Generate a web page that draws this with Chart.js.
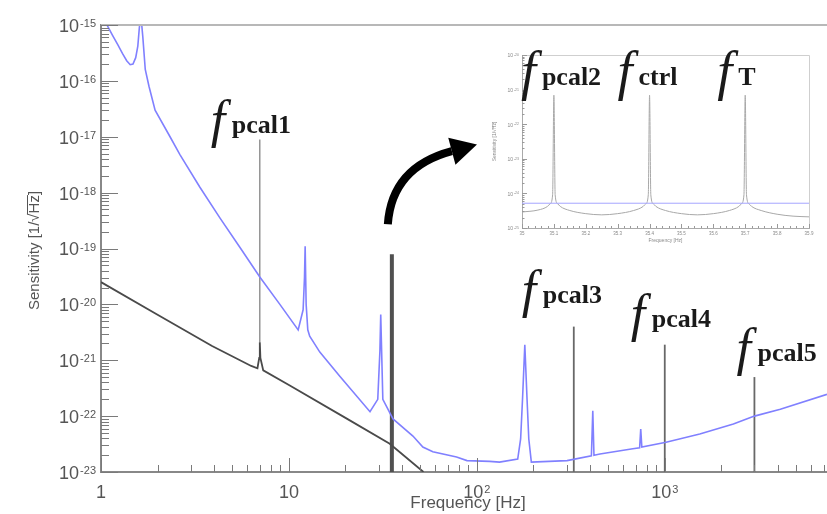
<!DOCTYPE html>
<html>
<head>
<meta charset="utf-8">
<script src="https://cdn.jsdelivr.net/npm/chart.js@4.4.1/dist/chart.umd.min.js"></script>
<style>
  html, body { margin: 0; padding: 0; background: #fff; }
  #wrap { position: relative; width: 827px; height: 514px; overflow: hidden; }
  #main { position: absolute; left: 0; top: 0; }
  #inset { position: absolute; left: 484px; top: 42px; }
</style>
</head>
<body>
<div id="wrap">
  <canvas id="main" width="827" height="514"></canvas>
  <canvas id="inset" width="336" height="210"></canvas>
</div>
<script>
// sensitivity curve (blue), Hz -> 1/sqrt(Hz)
const sensFreq = [1.03, 1.076, 1.15, 1.23, 1.3, 1.37, 1.43, 1.48, 1.53, 1.57, 1.6, 1.63, 1.67, 1.72, 1.8, 1.94, 2.33, 2.63, 3.36, 4.3, 5.48, 7.0, 8.95, 11.2, 11.9, 12.1, 12.2, 12.35, 12.6, 12.9, 14.6, 18.7, 27.0, 29.7, 30.5, 30.8, 31.6, 35.8, 45.7, 51.6, 58.3, 78, 88.6, 117, 132, 165, 171, 175, 180, 185, 189, 195, 302, 407, 414, 420, 452, 676, 735, 745, 755, 1016, 1536, 2318, 3000, 4120, 7300];
const sensValue = [1.5e-15, 1e-15, 6.6e-16, 4.4e-16, 3.1e-16, 2.3e-16, 1.95e-16, 2.0e-16, 2.6e-16, 4.2e-16, 9e-16, 1.5e-15, 6e-16, 1.6e-16, 8e-17, 3e-17, 1e-17, 4.8e-18, 1.25e-18, 3.5e-19, 1.05e-19, 3.1e-20, 1e-20, 3.5e-21, 8e-21, 3e-20, 1.1e-19, 1e-20, 3.5e-21, 2.7e-21, 1.4e-21, 5.1e-22, 1.2e-22, 2e-22, 1.5e-21, 6.6e-21, 2e-22, 8.9e-23, 4.4e-23, 2.8e-23, 2.3e-23, 1.85e-23, 1.6e-23, 1.55e-23, 1.5e-23, 1.7e-23, 3.9e-23, 2e-22, 1.9e-21, 2e-22, 3.9e-23, 1.5e-23, 1.6e-23, 1.95e-23, 1.25e-22, 2e-23, 2.1e-23, 2.6e-23, 2.7e-23, 5.9e-23, 2.8e-23, 3.4e-23, 4.8e-23, 7.2e-23, 1e-22, 1.33e-22, 2.45e-22];

// calibration noise curve (dark grey)
const noiseFreq = [1, 2, 3.9, 6.3, 6.8, 6.95, 7.0, 7.05, 7.3, 10, 20, 34.4, 52];
const noiseValue = [2.5e-20, 6.5e-21, 1.8e-21, 7.9e-22, 7.2e-22, 1.1e-21, 2.1e-21, 1.1e-21, 6.6e-22, 3.6e-22, 9.3e-23, 3.2e-23, 1e-23];

// calibration lines
const lineFreq = [7.0, 35.3, 328, 1000, 3000];
const lineTop = [8.9e-18, 7.9e-20, 4.0e-21, 1.9e-21, 5.0e-22];
const lineBase = [2.1e-21, 1e-23, 1e-23, 1e-23, 1e-23];
const lineNames = ["pcal1", "", "pcal3", "pcal4", "pcal5"];

const yTicks = [1e-23, 1e-22, 1e-21, 1e-20, 1e-19, 1e-18, 1e-17, 1e-16, 1e-15];
const xTicks = [1, 10, 100, 1000];

// inset (zoom around 35 Hz)
const insetFreq = [35.0, 35.05, 35.08, 35.088, 35.096, 35.1, 35.104, 35.112, 35.12, 35.15, 35.2, 35.25, 35.3, 35.35, 35.38, 35.388, 35.396, 35.4, 35.404, 35.412, 35.42, 35.45, 35.5, 35.55, 35.6, 35.65, 35.68, 35.688, 35.696, 35.7, 35.704, 35.712, 35.72, 35.75, 35.8, 35.85, 35.9];
const insetNoise = [2.9e-25, 3.3e-25, 4.2e-25, 5e-25, 9e-25, 6.9e-22, 9e-25, 5e-25, 4.2e-25, 3.2e-25, 2.6e-25, 2.4e-25, 2.6e-25, 3.2e-25, 4.2e-25, 5e-25, 9e-25, 6.9e-22, 9e-25, 5e-25, 4.2e-25, 3.2e-25, 2.6e-25, 2.4e-25, 2.6e-25, 3.2e-25, 4.2e-25, 5e-25, 9e-25, 6.9e-22, 9e-25, 5e-25, 4.2e-25, 3.2e-25, 2.5e-25, 2.2e-25, 2.1e-25];
const insetSensFreq = [35.0, 35.9];
const insetSensValue = [5.2e-25, 5.2e-25];
const insetPeakFreq = [35.1, 35.4, 35.7];
const insetPeakNames = ["pcal2", "ctrl", "T"];
const insetYTicks = [1e-25, 1e-24, 1e-23, 1e-22, 1e-21, 1e-20];
const insetXTicks = [35.0, 35.1, 35.2, 35.3, 35.4, 35.5, 35.6, 35.7, 35.8, 35.9];
const insetXLabels = ["35", "35.1", "35.2", "35.3", "35.4", "35.5", "35.6", "35.7", "35.8", "35.9"];

// styles
const SANS = '"Liberation Sans", Arial, sans-serif';
const SERIF = '"Liberation Serif", "Times New Roman", serif';
const lineWidths = [1.2, 4, 1.8, 1.8, 1.8];
const lineColors = ["#7a7a7a", "#505050", "#686868", "#686868", "#686868"];
const labelShift = [[-28, -7], null, [-31, -24], [-13, -18], [3, -16]];
const insetLabelShift = [-12, -11, -7];

const pts = (xs, ys) => xs.map((v, i) => ({ x: v, y: ys[i] }));

function drawPow(ctx, e, x, y, align, big, small, color) {
  const base = e === 0 ? "1" : "10";
  const sup = e === 0 || e === 1 ? "" : String(e);
  ctx.save();
  ctx.fillStyle = color;
  ctx.font = big + "px " + SANS;
  const wb = ctx.measureText(base).width;
  ctx.font = small + "px " + SANS;
  const ws = sup ? ctx.measureText(sup).width + 1 : 0;
  const left = align === "right" ? x - wb - ws : x - (wb + ws) / 2;
  ctx.textAlign = "left";
  ctx.textBaseline = "middle";
  ctx.font = big + "px " + SANS;
  ctx.fillText(base, left, y);
  if (sup) {
    ctx.textBaseline = "alphabetic";
    ctx.font = small + "px " + SANS;
    ctx.fillText(sup, left + wb + 1, y);
  }
  ctx.restore();
}

function drawF(ctx, sub, subLeft, baseline, fSize) {
  ctx.save();
  ctx.fillStyle = "#1a1a1a";
  ctx.textAlign = "left";
  ctx.textBaseline = "alphabetic";
  ctx.font = "italic " + fSize + "px " + SERIF;
  ctx.fillText("f", subLeft - 21, baseline + 4);
  ctx.font = "bold 26px " + SERIF;
  ctx.fillText(sub, subLeft, baseline);
  ctx.restore();
}

// "Sensitivity [1/√Hz]" with a bar over Hz
function drawSensTitle(ctx, cx, cy, size, color) {
  ctx.save();
  ctx.translate(cx, cy);
  ctx.rotate(-Math.PI / 2);
  ctx.font = size + "px " + SANS;
  ctx.fillStyle = color;
  ctx.strokeStyle = color;
  ctx.textAlign = "left";
  ctx.textBaseline = "middle";
  const full = "Sensitivity [1/\u221AHz]";
  const w = ctx.measureText(full).width;
  const w1 = ctx.measureText("Sensitivity [1/\u221A").width;
  const w2 = ctx.measureText("Sensitivity [1/\u221AHz").width;
  ctx.fillText(full, -w / 2, 0);
  ctx.lineWidth = Math.max(0.5, size / 15);
  ctx.beginPath();
  ctx.moveTo(-w / 2 + w1 - size * 0.05, -size * 0.5);
  ctx.lineTo(-w / 2 + w2, -size * 0.5);
  ctx.stroke();
  ctx.restore();
}

const mainDecor = {
  id: "mainDecor",
  afterDraw(chart) {
    const { ctx, chartArea: a, scales: { x, y } } = chart;
    ctx.save();
    // top frame
    ctx.strokeStyle = "#b8b8b8";
    ctx.lineWidth = 2;
    ctx.beginPath();
    ctx.moveTo(a.left, a.top);
    ctx.lineTo(a.right, a.top);
    ctx.stroke();

    // inward ticks
    ctx.strokeStyle = "#7a7a7a";
    ctx.lineWidth = 1;
    ctx.beginPath();
    for (let e = -23; e <= -15; e++) {
      for (let m = 1; m <= 9; m++) {
        const v = m * Math.pow(10, e);
        if (v > y.max * 1.001) break;
        const py = Math.round(y.getPixelForValue(v)) + 0.5;
        const len = m === 1 ? 17 : 8;
        ctx.moveTo(a.left, py);
        ctx.lineTo(a.left + len, py);
      }
    }
    for (let d = 0; d <= 3; d++) {
      for (let m = 1; m <= 9; m++) {
        const v = m * Math.pow(10, d);
        if (v > x.max) break;
        const px = Math.round(x.getPixelForValue(v)) + 0.5;
        const len = m === 1 ? 14 : 7;
        ctx.moveTo(px, a.bottom);
        ctx.lineTo(px, a.bottom - len);
      }
    }
    ctx.stroke();

    // tick labels
    yTicks.forEach((v) => {
      drawPow(ctx, Math.round(Math.log10(v)), a.left - 5, y.getPixelForValue(v) + 2, "right", 18, 11, "#555");
    });
    xTicks.forEach((v) => {
      drawPow(ctx, Math.round(Math.log10(v)), x.getPixelForValue(v), a.bottom + 21, "center", 18, 11, "#555");
    });

    // axis titles
    ctx.fillStyle = "#555";
    ctx.textAlign = "center";
    ctx.textBaseline = "middle";
    ctx.font = "17px " + SANS;
    ctx.fillText("Frequency [Hz]", (a.left + a.right) / 2 + 4, a.bottom + 31);
    drawSensTitle(ctx, 35, (a.top + a.bottom) / 2 + 2, 15, "#555");

    // line labels
    lineNames.forEach((name, i) => {
      if (!name) return;
      const px = x.getPixelForValue(lineFreq[i]);
      const py = y.getPixelForValue(lineTop[i]);
      drawF(ctx, name, px + labelShift[i][0], py + labelShift[i][1], 52);
    });

    // curved arrow pointing to the inset
    const lx = x.getPixelForValue(lineFreq[1]);
    const ty = y.getPixelForValue(lineTop[1]);
    const sx = lx - 4, sy = ty - 30;
    const cx = lx, cy = ty - 87;
    const ex = lx + 60, ey = ty - 103;
    ctx.strokeStyle = "#000";
    ctx.fillStyle = "#000";
    ctx.lineWidth = 8;
    ctx.beginPath();
    ctx.moveTo(sx, sy);
    ctx.quadraticCurveTo(cx, cy, ex, ey);
    ctx.stroke();
    const dl = Math.hypot(ex - cx, ey - cy);
    const ux = (ex - cx) / dl, uy = (ey - cy) / dl;
    ctx.beginPath();
    ctx.moveTo(ex + 26 * ux, ey + 26 * uy);
    ctx.lineTo(ex - 14 * uy, ey + 14 * ux);
    ctx.lineTo(ex + 14 * uy, ey - 14 * ux);
    ctx.closePath();
    ctx.fill();
    ctx.restore();
  }
};

const datasets = [
  {
    data: pts(sensFreq, sensValue),
    borderColor: "rgb(128,128,255)",
    borderWidth: 1.6
  },
  {
    data: pts(noiseFreq, noiseValue),
    borderColor: "#4a4a4a",
    borderWidth: 1.8
  }
];
lineFreq.forEach((f, i) => {
  datasets.push({
    data: pts([f, f], [lineBase[i], lineTop[i]]),
    borderColor: lineColors[i],
    borderWidth: lineWidths[i]
  });
});

new Chart(document.getElementById("main"), {
  type: "line",
  data: { datasets: datasets },
  options: {
    responsive: false,
    animation: false,
    events: [],
    layout: { padding: { top: 25, right: 0, left: 0, bottom: 0 } },
    elements: { point: { radius: 0 }, line: { tension: 0 } },
    plugins: { legend: { display: false }, tooltip: { enabled: false } },
    scales: {
      x: {
        type: "logarithmic",
        min: 1,
        max: 7300,
        grid: { display: false },
        ticks: { display: false },
        border: { display: true, color: "#888", width: 2 },
        afterFit: (s) => { s.height = 42; }
      },
      y: {
        type: "logarithmic",
        min: 1e-23,
        max: 1e-15,
        grid: { display: false },
        ticks: { display: false },
        border: { display: true, color: "#888", width: 2 },
        afterFit: (s) => { s.width = 101; }
      }
    }
  },
  plugins: [mainDecor]
});

// ---------- inset ----------
const insetDecor = {
  id: "insetDecor",
  afterDraw(chart) {
    const { ctx, chartArea: a, scales: { x, y } } = chart;
    ctx.save();
    ctx.strokeStyle = "#cfcfcf";
    ctx.lineWidth = 1;
    ctx.beginPath();
    ctx.moveTo(a.left, a.top + 0.5);
    ctx.lineTo(a.right + 0.5, a.top + 0.5);
    ctx.lineTo(a.right + 0.5, a.bottom);
    ctx.stroke();

    ctx.strokeStyle = "#9a9a9a";
    ctx.beginPath();
    for (let e = -25; e <= -20; e++) {
      for (let m = 1; m <= 9; m++) {
        const v = m * Math.pow(10, e);
        if (v > y.max * 1.001) break;
        const py = Math.round(y.getPixelForValue(v)) + 0.5;
        ctx.moveTo(a.left, py);
        ctx.lineTo(a.left + (m === 1 ? 5 : 2.5), py);
      }
    }
    for (let k = 0; k <= 45; k++) {
      const v = 35 + k * 0.02;
      const px = Math.round(x.getPixelForValue(v)) + 0.5;
      ctx.moveTo(px, a.bottom);
      ctx.lineTo(px, a.bottom - (k % 5 === 0 ? 4 : 2));
    }
    ctx.stroke();

    insetYTicks.forEach((v) => {
      drawPow(ctx, Math.round(Math.log10(v)), a.left - 3, y.getPixelForValue(v) + 1, "right", 5, 3.5, "#888");
    });
    ctx.fillStyle = "#888";
    ctx.textAlign = "center";
    ctx.textBaseline = "middle";
    ctx.font = "4.5px " + SANS;
    insetXTicks.forEach((v, i) => {
      ctx.fillText(insetXLabels[i], x.getPixelForValue(v), a.bottom + 6);
    });
    ctx.font = "5px " + SANS;
    ctx.fillText("Frequency [Hz]", (a.left + a.right) / 2, a.bottom + 13);
    drawSensTitle(ctx, a.left - 27, (a.top + a.bottom) / 2, 5, "#888");

    insetPeakNames.forEach((name, i) => {
      const px = x.getPixelForValue(insetPeakFreq[i]);
      drawF(ctx, name, px + insetLabelShift[i], a.top + 30, 54);
    });
    ctx.restore();
  }
};

new Chart(document.getElementById("inset"), {
  type: "line",
  data: {
    datasets: [
      {
        data: pts(insetSensFreq, insetSensValue),
        borderColor: "rgb(165,165,255)",
        borderWidth: 1
      },
      {
        data: pts(insetFreq, insetNoise),
        borderColor: "#a8a8a8",
        borderWidth: 1,
        cubicInterpolationMode: "monotone"
      }
    ]
  },
  options: {
    responsive: false,
    animation: false,
    events: [],
    layout: { padding: { top: 13, right: 11, left: 0, bottom: 0 } },
    elements: { point: { radius: 0 }, line: { tension: 0 } },
    plugins: { legend: { display: false }, tooltip: { enabled: false } },
    scales: {
      x: {
        type: "linear",
        min: 35.0,
        max: 35.9,
        grid: { display: false },
        ticks: { display: false },
        border: { display: true, color: "#aaa", width: 1 },
        afterFit: (s) => { s.height = 24; }
      },
      y: {
        type: "logarithmic",
        min: 1e-25,
        max: 1e-20,
        grid: { display: false },
        ticks: { display: false },
        border: { display: true, color: "#aaa", width: 1 },
        afterFit: (s) => { s.width = 38; }
      }
    }
  },
  plugins: [insetDecor]
});
</script>
</body>
</html>
